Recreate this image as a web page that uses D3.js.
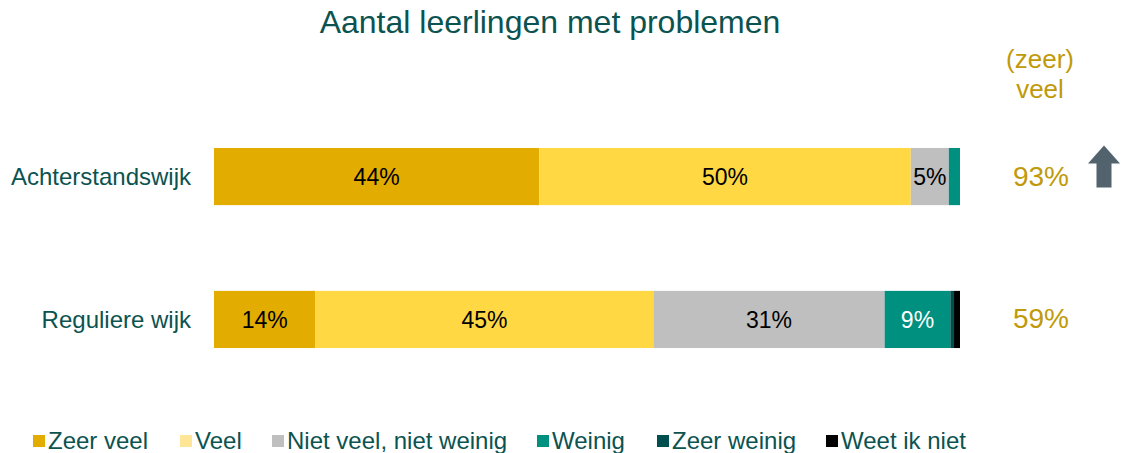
<!DOCTYPE html>
<html>
<head>
<meta charset="utf-8">
<script src="https://cdn.jsdelivr.net/npm/d3@7"></script>
<style>
  html, body { margin: 0; padding: 0; background: #fff; }
  svg { display: block; font-family: "Liberation Sans", Arial, sans-serif; }
</style>
</head>
<body>
<svg id="chart" width="1121" height="453"></svg>
<script>
const title = "Aantal leerlingen met problemen";
const categories = ["Achterstandswijk", "Reguliere wijk"];
const seriesNames = ["Zeer veel", "Veel", "Niet veel, niet weinig", "Weinig", "Zeer weinig", "Weet ik niet"];
const zeerVeel   = [43.6, 13.6];
const veel       = [49.8, 45.3];
const nietVeel   = [5.1, 31.0];
const weinig     = [1.5, 8.8];
const zeerWeinig = [0.0, 0.5];
const weetIkNiet = [0.0, 0.8];
const totalLabels = ["93%", "59%"];
const totalHeader = ["(zeer)", "veel"];
const arrowFor = [true, false];

const seriesValues = [zeerVeel, veel, nietVeel, weinig, zeerWeinig, weetIkNiet];
const barColors = ["#E2AC00", "#FFD843", "#BFBFBF", "#00907F", "#004F4F", "#000000"];
const swatchColors = ["#E2AC00", "#FFE697", "#BFBFBF", "#00907F", "#004F4F", "#000000"];
const labelColors = ["#000", "#000", "#000", "#fff", "#fff", "#fff"];
const textColor = "#0B5350";
const gold = "#BF9A0A";

const svg = d3.select("#chart");

const x = d3.scaleLinear().domain([0, 100]).range([214, 960]);
const y = d3.scaleBand().domain(categories)
  .range([148 - 0.3 * 143, 348 + 0.3 * 143]).paddingInner(0.6).paddingOuter(0.3);

// title
svg.append("text").attr("x", 550).attr("y", 33).attr("text-anchor", "middle")
  .attr("font-size", 32).attr("fill", textColor).text(title);

// stacked data
const rows = categories.map((c, i) => {
  const r = { cat: c };
  seriesNames.forEach((s, j) => r[s] = seriesValues[j][i]);
  return r;
});
const stack = d3.stack().keys(seriesNames)(rows);

const g = svg.append("g");
stack.forEach((layer, j) => {
  const lg = g.append("g");
  lg.selectAll("rect").data(layer).join("rect")
    .attr("x", d => x(d[0]))
    .attr("width", d => Math.max(0, x(d[1]) - x(d[0])))
    .attr("y", d => y(d.data.cat))
    .attr("height", y.bandwidth())
    .attr("fill", barColors[j]);
  lg.selectAll("text").data(layer.filter(d => d[1] - d[0] >= 3)).join("text")
    .attr("x", d => (x(d[0]) + x(d[1])) / 2)
    .attr("y", d => y(d.data.cat) + y.bandwidth() / 2 + 8.5)
    .attr("text-anchor", "middle")
    .attr("font-size", 23)
    .attr("fill", labelColors[j])
    .text(d => Math.round(d[1] - d[0]) + "%");
});

// category axis
const yAxis = d3.axisLeft(y).tickSize(0).tickPadding(0);
const ag = svg.append("g").attr("transform", "translate(191,0)").call(yAxis);
ag.select(".domain").remove();
ag.selectAll("text").attr("font-size", 24).attr("fill", textColor)
  .attr("font-family", "'Liberation Sans', Arial, sans-serif").attr("dy", "0.35em");

// right totals
totalHeader.forEach((t, i) => {
  svg.append("text").attr("x", 1040).attr("y", 68 + i * 30)
    .attr("text-anchor", "middle").attr("font-size", 26).attr("fill", gold).text(t);
});
svg.selectAll(".tot").data(categories).join("text").attr("class", "tot")
  .attr("x", 1041)
  .attr("y", d => y(d) + y.bandwidth() / 2 + 9)
  .attr("text-anchor", "middle").attr("font-size", 28).attr("fill", gold)
  .text((d, i) => totalLabels[i]);

// arrow
categories.forEach((c, i) => {
  if (!arrowFor[i]) return;
  const cy = y(c) + y.bandwidth() / 2;
  const cx = 1104;
  const p = d3.path();
  p.moveTo(cx, cy - 31);
  p.lineTo(cx + 16, cy - 13);
  p.lineTo(cx + 7.5, cy - 13);
  p.lineTo(cx + 7.5, cy + 11);
  p.lineTo(cx - 7.5, cy + 11);
  p.lineTo(cx - 7.5, cy - 13);
  p.lineTo(cx - 16, cy - 13);
  p.closePath();
  svg.append("path").attr("d", p.toString()).attr("fill", "#52636E");
});

// legend
const legendX = [33, 180, 272, 537, 657, 826];
const lg = svg.append("g");
seriesNames.forEach((s, j) => {
  lg.append("rect").attr("x", legendX[j]).attr("y", 435).attr("width", 12).attr("height", 12)
    .attr("fill", swatchColors[j]);
  lg.append("text").attr("x", legendX[j] + 15).attr("y", 449)
    .attr("font-size", 24).attr("fill", textColor).text(s);
});
</script>
</body>
</html>
